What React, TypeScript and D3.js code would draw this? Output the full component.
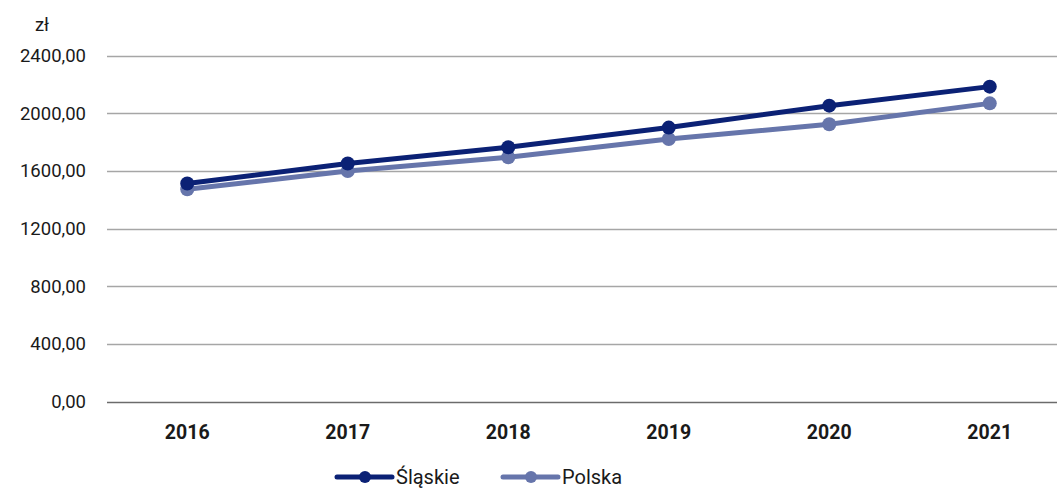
import * as d3 from "d3";
import { useEffect, useRef } from "react";

const years = ["2016", "2017", "2018", "2019", "2020", "2021"];
const slaskie = [1512, 1651, 1764, 1900, 2052, 2184];
const polska = [1472, 1599, 1694, 1821, 1923, 2068];
const yTicks = [0, 400, 800, 1200, 1600, 2000, 2400];

const W = 1057;
const H = 489;
const FONT = "Roboto, 'Noto Sans', sans-serif";

const App = () => {
    const ref = useRef<SVGSVGElement | null>(null);

    useEffect(() => {
        const svg = d3.select(ref.current);
        svg.selectAll("*").remove();

        const x = d3.scaleBand().domain(years).range([107, 1070]);
        const y = d3.scaleLinear().domain([0, 2400]).range([401.5, 55.5]);

        // siatka
        svg.append("g")
            .selectAll("line")
            .data(yTicks)
            .enter()
            .append("line")
            .attr("x1", 107)
            .attr("x2", W)
            .attr("y1", d => Math.round(y(d)) + 0.5)
            .attr("y2", d => Math.round(y(d)) + 0.5)
            .attr("stroke", d => (d === 0 ? "#6b6b6b" : "#a6a6a6"))
            .attr("stroke-width", 1.3);

        svg.append("g")
            .selectAll("text")
            .data(yTicks)
            .enter()
            .append("text")
            .attr("x", 86)
            .attr("y", d => y(d) + 6.5)
            .attr("text-anchor", "end")
            .style("font-family", FONT)
            .style("font-size", "18.5px")
            .attr("fill", "#1a1a1a")
            .text(d => d3.format(".2f")(d).replace(".", ","));

        svg.append("text")
            .attr("x", 42)
            .attr("y", 31)
            .attr("text-anchor", "middle")
            .style("font-family", FONT)
            .style("font-size", "18.5px")
            .attr("fill", "#1a1a1a")
            .text("zł");

        svg.append("g")
            .selectAll("text")
            .data(years)
            .enter()
            .append("text")
            .attr("x", d => (x(d) as number) + x.bandwidth() / 2)
            .attr("y", 439)
            .attr("text-anchor", "middle")
            .style("font-family", FONT)
            .style("font-size", "19.5px")
            .style("font-weight", "bold")
            .attr("fill", "#1a1a1a")
            .text(d => d);

        const cx = (d: string) => (x(d) as number) + x.bandwidth() / 2;

        const drawSeries = (vals: number[], color: string) => {
            const line = d3.line<number>()
                .x((_, i) => cx(years[i]))
                .y(v => y(v));
            svg.append("path")
                .datum(vals)
                .attr("d", line)
                .attr("fill", "none")
                .attr("stroke", color)
                .attr("stroke-width", 5)
                .attr("stroke-linejoin", "round");
            svg.append("g")
                .selectAll("circle")
                .data(vals)
                .enter()
                .append("circle")
                .attr("cx", (_, i) => cx(years[i]))
                .attr("cy", v => y(v))
                .attr("r", 7)
                .attr("fill", color);
        };

        drawSeries(polska, "#6675ab");
        drawSeries(slaskie, "#0b2175");

        // legenda
        const legend = [
            { name: "Śląskie", color: "#0b2175", x0: 337 },
            { name: "Polska", color: "#6675ab", x0: 503 },
        ];
        legend.forEach(l => {
            svg.append("line")
                .attr("x1", l.x0)
                .attr("x2", l.x0 + 55)
                .attr("y1", 477)
                .attr("y2", 477)
                .attr("stroke", l.color)
                .attr("stroke-width", 5)
                .attr("stroke-linecap", "round");
            svg.append("circle")
                .attr("cx", l.x0 + 28)
                .attr("cy", 477)
                .attr("r", 6)
                .attr("fill", l.color);
            svg.append("text")
                .attr("x", l.x0 + 59)
                .attr("y", 484)
                .style("font-family", FONT)
                .style("font-size", "20px")
                .attr("fill", "#1a1a1a")
                .text(l.name);
        });
    }, []);

    return (
        <svg
            ref={ref}
            width={W}
            height={H}
            style={{ position: "absolute", left: 0, top: 0, display: "block", background: "#fff" }}
        ></svg>
    );
};

export default App;
